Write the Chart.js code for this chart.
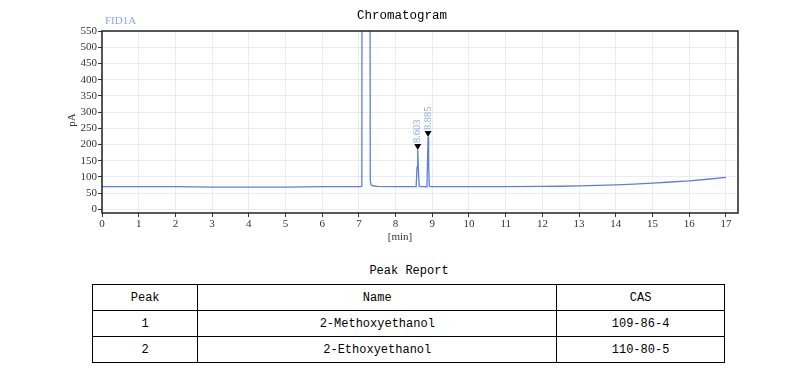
<!DOCTYPE html>
<html>
<head>
<meta charset="utf-8">
<script src="https://cdn.jsdelivr.net/npm/chart.js@4/dist/chart.umd.min.js"></script>
<style>
  body { margin: 0; background: #fff; width: 806px; height: 386px; overflow: hidden; position: relative; }
  #wrap { position: absolute; left: 0; top: 0; width: 806px; height: 250px; }
  #reportTitle { position: absolute; left: 0; width: 818px; top: 264px; text-align: center;
    font: 12px "Liberation Mono", "DejaVu Sans Mono", monospace; color: #000; }
  #report { position: absolute; left: 92px; top: 284px; width: 633px; border-collapse: collapse;
    font: 12px "Liberation Mono", "DejaVu Sans Mono", monospace; color: #000; }
  #report td, #report th { border: 1px solid #000; height: 25px; padding: 0; text-align: center; font-weight: normal; }
</style>
</head>
<body>
<div id="wrap"><canvas id="chromChart"></canvas></div>
<div id="reportTitle">Peak Report</div>
<table id="report"></table>
<script>
// retention time (min) and detector signal (pA)
const times  = [0, 1, 2, 3, 4, 5, 6, 7, 7.05, 7.08, 7.1, 7.28, 7.31, 7.33, 7.38, 7.5, 8,
                8.56, 8.585, 8.603, 8.625, 8.645, 8.855, 8.872, 8.885, 8.9, 8.92,
                9, 10, 11, 12, 12.5, 13, 13.5, 14, 14.5, 15, 15.5, 16, 16.5, 17];
const signal = [70, 70, 70, 69, 69, 69, 70, 70, 70, 72, 3000, 3000, 90, 76, 73, 71, 70,
                70, 130, 183, 110, 71, 70, 160, 223, 140, 71,
                70, 70, 70, 71, 71.5, 72.5, 74, 75.5, 78, 81, 84.5, 88, 93, 99];

// labelled peaks
const peakTimes   = [8.603, 8.885];
const peakHeights = [183, 223];
const peakLabels  = ['8.603', '8.885'];

const xTicks = [0, 1, 2, 3, 4, 5, 6, 7, 8, 9, 10, 11, 12, 13, 14, 15, 16, 17];
const yTicks = [0, 50, 100, 150, 200, 250, 300, 350, 400, 450, 500, 550];

// peak report table
const peakNumbers = ['1', '2'];
const peakNames   = ['2-Methoxyethanol', '2-Ethoxyethanol'];
const peakCas     = ['109-86-4', '110-80-5'];

const lineColor = '#5b7fe3';
const labelBlue = '#8aa6ee';
const tickFont = { family: '"Liberation Serif", "DejaVu Serif", serif', size: 11 };

// frame, titles, peak markers
const decorations = {
    id: 'decorations',
    afterDraw(chart) {
        const { ctx, chartArea: a, scales: { x, y } } = chart;
        ctx.save();
        ctx.strokeStyle = '#222';
        ctx.lineWidth = 1.5;
        ctx.strokeRect(a.left, a.top, a.right - a.left, a.bottom - a.top);

        ctx.fillStyle = '#000';
        ctx.font = '12.5px "Liberation Mono", "DejaVu Sans Mono", monospace';
        ctx.textAlign = 'center';
        ctx.textBaseline = 'middle';
        ctx.fillText('Chromatogram', 402, 16);

        ctx.fillStyle = labelBlue;
        ctx.font = '11px "Liberation Serif", "DejaVu Serif", serif';
        ctx.textAlign = 'left';
        ctx.fillText('FID1A', 105, 21);

        ctx.fillStyle = '#333';
        ctx.textAlign = 'center';
        ctx.fillText('[min]', 400, 237);
        ctx.save();
        ctx.translate(72, 120);
        ctx.rotate(-Math.PI / 2);
        ctx.fillText('pA', 0, 0);
        ctx.restore();

        peakTimes.forEach((t, i) => {
            const px = x.getPixelForValue(t);
            const py = y.getPixelForValue(peakHeights[i]);
            ctx.fillStyle = '#000';
            ctx.beginPath();
            ctx.moveTo(px - 3.5, py - 6);
            ctx.lineTo(px + 3.5, py - 6);
            ctx.lineTo(px, py);
            ctx.closePath();
            ctx.fill();
            ctx.save();
            ctx.translate(px, py - 7);
            ctx.rotate(-Math.PI / 2);
            ctx.fillStyle = labelBlue;
            ctx.font = '10.5px "Liberation Serif", "DejaVu Serif", serif';
            ctx.textAlign = 'left';
            ctx.textBaseline = 'middle';
            ctx.fillText(peakLabels[i], 0, 0);
            ctx.restore();
        });
        ctx.restore();
    }
};

new Chart(document.getElementById('chromChart'), {
    type: 'line',
    data: {
        datasets: [{
            data: times.map((t, i) => ({ x: t, y: signal[i] })),
            borderColor: lineColor,
            borderWidth: 1.3,
            pointRadius: 0,
            tension: 0,
            fill: false
        }]
    },
    options: {
        responsive: true,
        maintainAspectRatio: false,
        animation: false,
        layout: { padding: { top: 31, right: 68, left: 0, bottom: 0 } },
        plugins: { legend: { display: false }, tooltip: { enabled: false }, title: { display: false } },
        scales: {
            x: {
                type: 'linear',
                min: 0,
                max: 17.33,
                afterBuildTicks: s => { s.ticks = xTicks.map(v => ({ value: v })); },
                afterFit: s => { s.height = 37; },
                ticks: { font: tickFont, color: '#333', padding: 1, maxRotation: 0, autoSkip: false },
                grid: { color: '#ececec', tickColor: '#333', tickLength: 4 },
                border: { display: false }
            },
            y: {
                min: -11,
                max: 550,
                afterBuildTicks: s => { s.ticks = yTicks.map(v => ({ value: v })); },
                afterFit: s => { s.width = 102; },
                ticks: { font: tickFont, color: '#333', padding: 1, autoSkip: false },
                grid: { color: '#ececec', tickColor: '#333', tickLength: 4 },
                border: { display: false }
            }
        }
    },
    plugins: [decorations]
});

// build the report table
const table = document.getElementById('report');
const head = table.insertRow();
['Peak', 'Name', 'CAS'].forEach((h, i) => {
    const th = document.createElement('th');
    th.textContent = h;
    th.style.width = ['105px', '360px', '168px'][i];
    head.appendChild(th);
});
peakNumbers.forEach((n, i) => {
    const row = table.insertRow();
    [n, peakNames[i], peakCas[i]].forEach(v => { row.insertCell().textContent = v; });
});
</script>
</body>
</html>
